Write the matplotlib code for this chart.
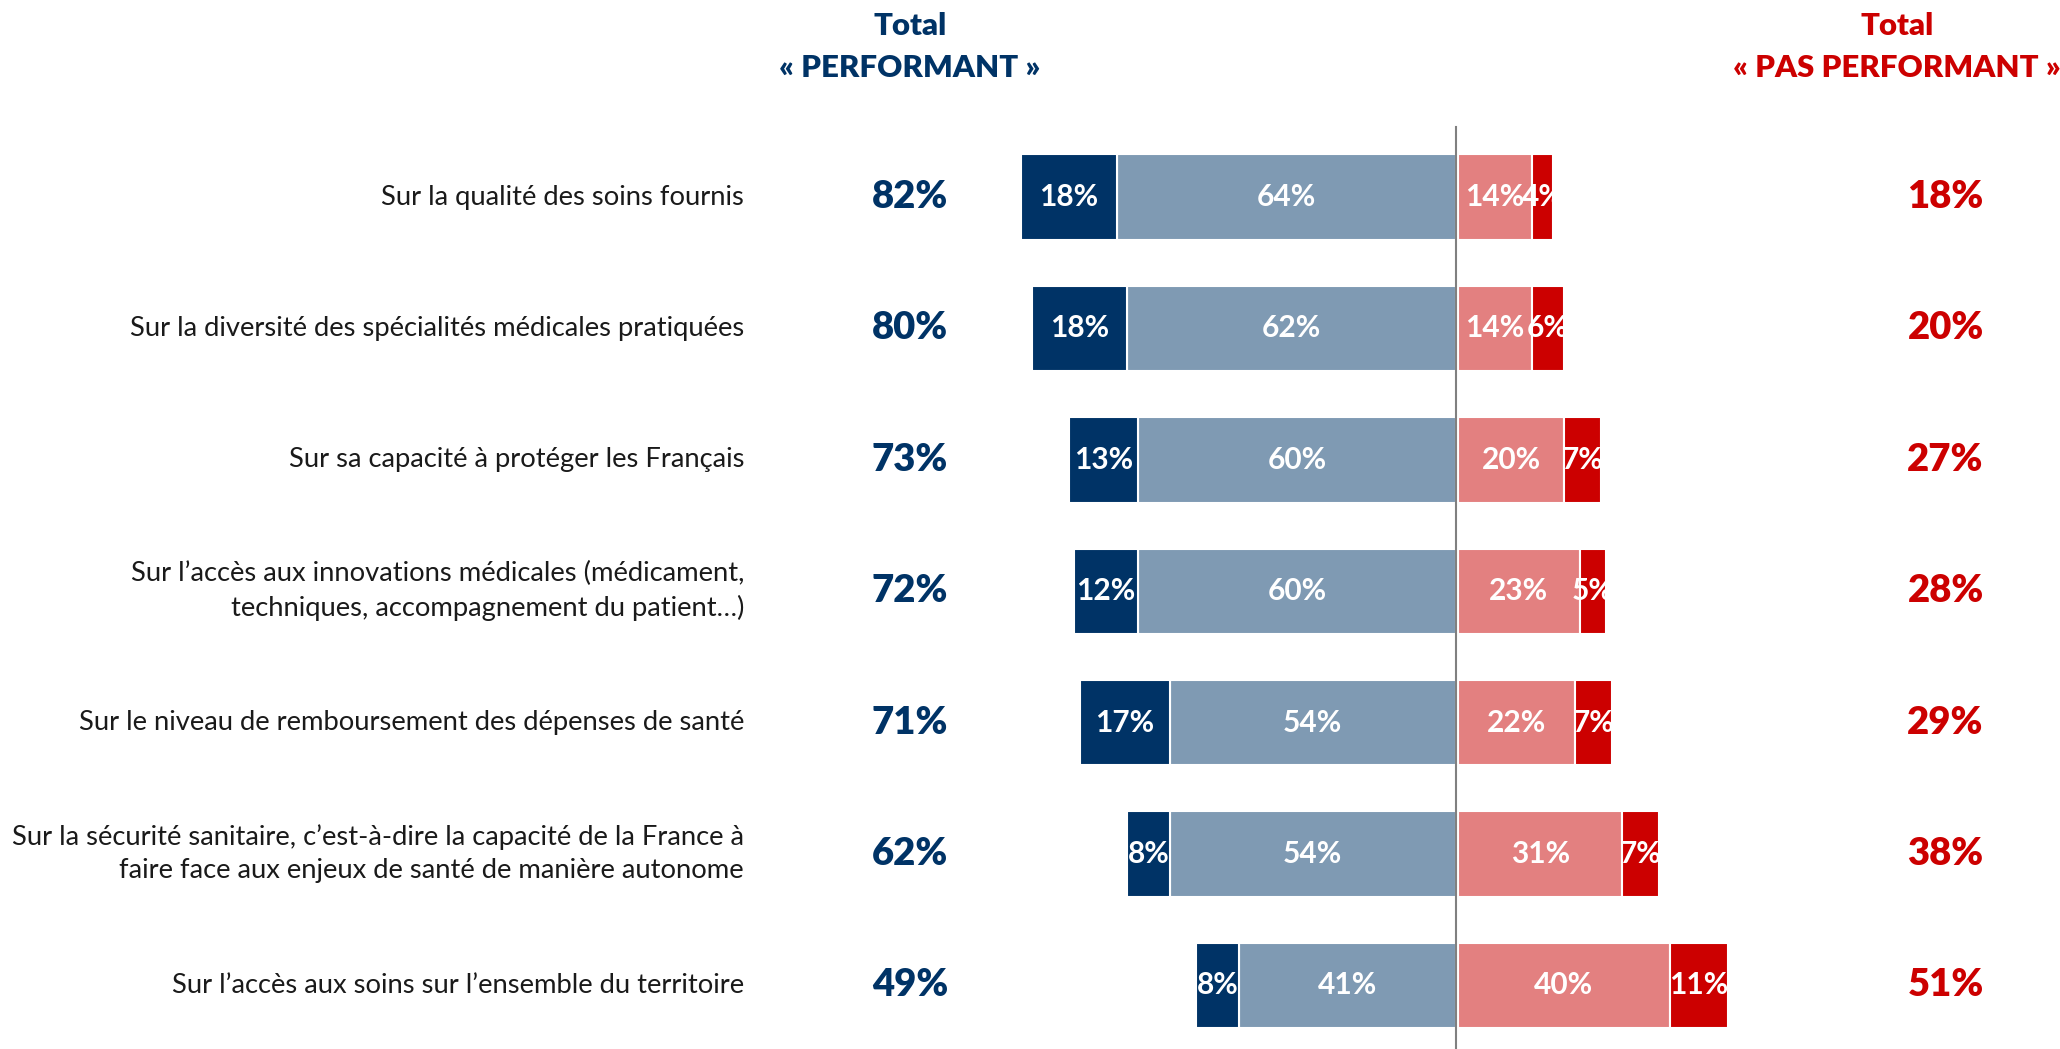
import matplotlib
matplotlib.use("Agg")
import matplotlib.pyplot as plt

plt.rcParams['font.family'] = ['Lato', 'DejaVu Sans']

categories = [
    "Sur la qualité des soins fournis",
    "Sur la diversité des spécialités médicales pratiquées",
    "Sur sa capacité à protéger les Français",
    "Sur l’accès aux innovations médicales (médicament,\ntechniques, accompagnement du patient…)",
    "Sur le niveau de remboursement des dépenses de santé",
    "Sur la sécurité sanitaire, c’est-à-dire la capacité de la France à\nfaire face aux enjeux de santé de manière autonome",
    "Sur l’accès aux soins sur l’ensemble du territoire",
]
tres_perf = [18, 18, 13, 12, 17, 8, 8]
plutot_perf = [64, 62, 60, 60, 54, 54, 41]
plutot_pas = [14, 14, 20, 23, 22, 31, 40]
pas_du_tout = [4, 6, 7, 5, 7, 7, 11]
total_perf = [82, 80, 73, 72, 71, 62, 49]
total_pas = [18, 20, 27, 28, 29, 38, 51]

C_DARK = "#003366"
C_LIGHT = "#7F9AB3"
C_PINK = "#E38080"
C_RED = "#CC0000"

fig = plt.figure(figsize=(20.6, 10.49), dpi=100)
ax = fig.add_axes([0, 0, 1, 1])
ax.set_xlim(-274.7, 114.0)
ax.set_ylim(6.484, -1.5)
ax.axis("off")

ys = list(range(len(categories)))
h = 0.65
ew = 1.5
gap = 0.4
ax.barh(ys, [-v for v in plutot_perf], height=h, color=C_LIGHT, edgecolor="white", linewidth=ew)
ax.barh(ys, [-v for v in tres_perf], left=[-v for v in plutot_perf], height=h, color=C_DARK, edgecolor="white", linewidth=ew)
ax.barh(ys, plutot_pas, left=gap, height=h, color=C_PINK, edgecolor="white", linewidth=ew)
ax.barh(ys, pas_du_tout, left=[gap + v for v in plutot_pas], height=h, color=C_RED, edgecolor="white", linewidth=ew)

ax.plot([0, 0], [-0.53, 6.5], color="#808080", linewidth=1.5, zorder=5)

fs_in = 21.5
for i in ys:
    a, b, c, d = tres_perf[i], plutot_perf[i], plutot_pas[i], pas_du_tout[i]
    ax.text(-b - a / 2, i, f"{a}%", ha="center", va="center", color="white", fontsize=fs_in, fontweight="bold", zorder=6)
    ax.text(-b / 2, i, f"{b}%", ha="center", va="center", color="white", fontsize=fs_in, fontweight="bold", zorder=6)
    ax.text(gap + c / 2, i, f"{c}%", ha="center", va="center", color="white", fontsize=fs_in, fontweight="bold", zorder=6)
    ax.text(gap + c + d / 2, i, f"{d}%", ha="center", va="center", color="white", fontsize=fs_in, fontweight="bold", zorder=6)
    ax.text(-134.3, i, categories[i], ha="right", va="center", color="#1a1a1a", fontsize=19.7, linespacing=1.4)
    ax.text(-103, i, f"{total_perf[i]}%", ha="center", va="center", color=C_DARK, fontsize=27.5, fontweight="heavy")
    ax.text(92.4, i, f"{total_pas[i]}%", ha="center", va="center", color=C_RED, fontsize=27.5, fontweight="heavy")

ax.text(-103, -1.30, "Total", ha="center", va="center", color=C_DARK, fontsize=22.4, fontweight="heavy")
ax.text(-103, -0.98, "« PERFORMANT »", ha="center", va="center", color=C_DARK, fontsize=22.4, fontweight="heavy")
ax.text(83.2, -1.30, "Total", ha="center", va="center", color=C_RED, fontsize=22.4, fontweight="heavy")
ax.text(83.2, -0.98, "« PAS PERFORMANT »", ha="center", va="center", color=C_RED, fontsize=22.4, fontweight="heavy")

fig.savefig("out.png", dpi=100, facecolor="white")
